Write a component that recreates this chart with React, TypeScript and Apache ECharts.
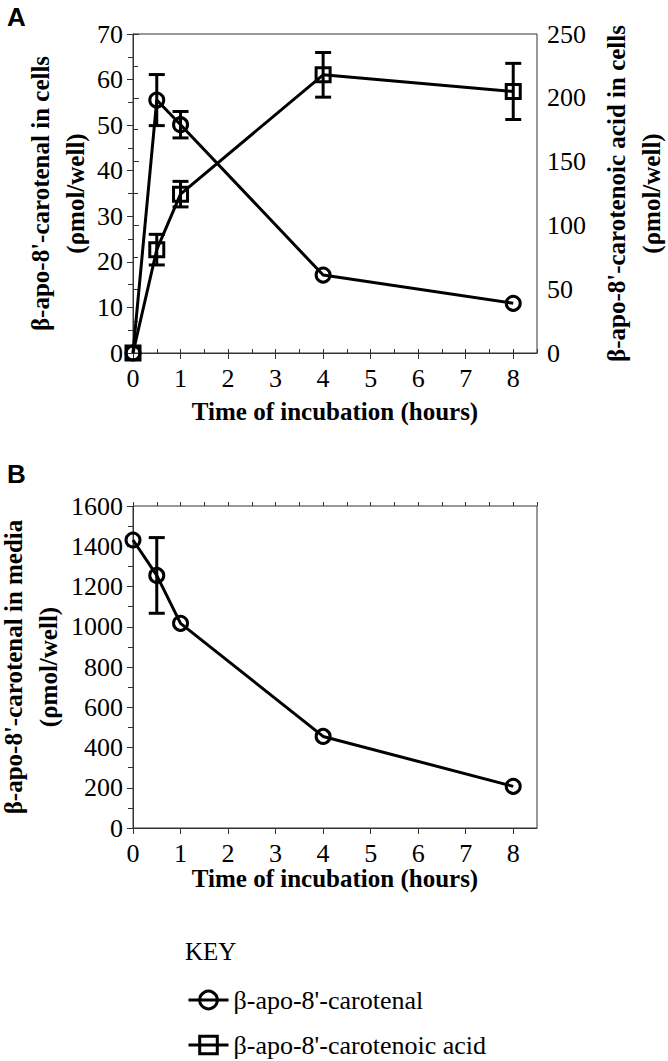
import React, { useEffect, useRef } from 'react';
import * as echarts from 'echarts';

// ---- data ----
const times = [0, 0.5, 1, 4, 8];
const cellCarotenal = [0, 55.5, 50.1, 17.1, 10.9];
const cellCarotenalErr = [0, 5.6, 2.9, 0, 0];
const cellAcid = [0, 81, 124.5, 218, 205];
const cellAcidErr = [0, 12, 10, 17.5, 22];
const mediaCarotenal = [1431, 1255, 1017, 455, 207];
const mediaCarotenalErr = [0, 188, 0, 0, 0];
const xTickLabels = [0, 1, 2, 3, 4, 5, 6, 7, 8];

const CAROTENAL = "β-apo-8'-carotenal";
const ACID = "β-apo-8'-carotenoic acid";
const SERIF = 'Liberation Serif';
const SANS = 'Liberation Sans';
const AXIS = '#333';
const CLEAR = 'rgba(0,0,0,0)';

const pairs = (vals: number[]) => times.map((t, i) => [t, vals[i]]);
const errData = (vals: number[], errs: number[]) =>
  times
    .map((t, i) => [t, vals[i] - errs[i], vals[i] + errs[i], errs[i]])
    .filter((d) => d[3] > 0);

const errorRender = (params: any, api: any) => {
  const x = api.value(0);
  const lo = api.coord([x, api.value(1)]);
  const hi = api.coord([x, api.value(2)]);
  const hw = 8;
  const st = { stroke: '#000', lineWidth: 3 };
  return {
    type: 'group',
    children: [
      { type: 'line', shape: { x1: hi[0], y1: hi[1], x2: lo[0], y2: lo[1] }, style: st },
      { type: 'line', shape: { x1: hi[0] - hw, y1: hi[1], x2: hi[0] + hw, y2: hi[1] }, style: st },
      { type: 'line', shape: { x1: lo[0] - hw, y1: lo[1], x2: lo[0] + hw, y2: lo[1] }, style: st },
    ],
  };
};

const tickLabel = { fontFamily: SERIF, fontSize: 26, color: '#000' };
const nameStyle = { fontFamily: SERIF, fontSize: 25, fontWeight: 'bold' as const, color: '#000', lineHeight: 35 };

const mainX = (gridIndex: number, nameGap: number) => ({
  type: 'value',
  gridIndex,
  min: 0,
  max: 8.5,
  interval: 1,
  name: 'Time of incubation (hours)',
  nameLocation: 'middle',
  nameGap,
  nameMoveOverlap: false,
  nameTextStyle: { ...nameStyle },
  axisLine: { show: true, lineStyle: { color: AXIS, width: 1 } },
  axisTick: { show: true, length: 6, lineStyle: { color: AXIS } },
  axisLabel: {
    ...tickLabel,
    margin: 12,
    showMaxLabel: false,
    formatter: (v: number) => (xTickLabels.includes(v) ? String(v) : ''),
  },
  splitLine: { show: false },
});

const minorX = (gridIndex: number) => ({
  type: 'value',
  gridIndex,
  min: 0,
  max: 8.5,
  interval: 0.5,
  axisLine: { show: false },
  axisTick: { show: true, length: 4, lineStyle: { color: AXIS } },
  axisLabel: { show: false },
  splitLine: { show: false },
});

const yAx = (gridIndex: number, max: number, interval: number, name: string, nameGap: number, position: string) => ({
  type: 'value',
  gridIndex,
  position,
  min: 0,
  max,
  interval,
  name,
  nameLocation: 'middle',
  nameGap,
  nameRotate: 90,
  nameMoveOverlap: false,
  nameTextStyle: { ...nameStyle },
  axisLine: { show: true, lineStyle: { color: AXIS, width: 1 } },
  axisTick: { show: true, length: 6, lineStyle: { color: AXIS } },
  minorTick: { show: true, splitNumber: 2, length: 5, lineStyle: { color: AXIS } },
  axisLabel: { ...tickLabel, margin: 10, formatter: (v: number) => String(v) },
  splitLine: { show: false },
  minorSplitLine: { show: false },
});

const lineSeries = (name: string, symbol: string, data: number[], xi: number, yi: number) => ({
  type: 'line',
  name,
  xAxisIndex: xi,
  yAxisIndex: yi,
  data: pairs(data),
  symbol,
  symbolSize: 14,
  showAllSymbol: true,
  lineStyle: { color: '#000', width: 3 },
  itemStyle: { color: CLEAR, borderColor: '#000', borderWidth: 3 },
  emphasis: { disabled: true },
  z: 3,
});

const errSeries = (vals: number[], errs: number[], xi: number, yi: number) => ({
  type: 'custom',
  xAxisIndex: xi,
  yAxisIndex: yi,
  data: errData(vals, errs),
  encode: { x: 0, y: [1, 2] },
  renderItem: errorRender,
  z: 2,
  silent: true,
});

export default function App() {
  const ref = useRef<HTMLDivElement>(null);
  useEffect(() => {
    document.body.style.margin = '0';
    const chart = echarts.init(ref.current!, undefined, { renderer: 'svg' });
    chart.setOption({
      animation: false,
      backgroundColor: '#fff',
      grid: [
        { left: 133, top: 34, width: 404, height: 319, show: true, borderColor: AXIS, borderWidth: 1, backgroundColor: 'transparent', containLabel: false, outerBoundsMode: 'none' },
        { left: 133, top: 506, width: 404, height: 322, show: true, borderColor: AXIS, borderWidth: 1, backgroundColor: 'transparent', containLabel: false, outerBoundsMode: 'none' },
      ],
      xAxis: [mainX(0, 41), minorX(0), mainX(1, 33), minorX(1)],
      yAxis: [
        yAx(0, 70, 10, "β-apo-8'-carotenal in cells\n(ρmol/well)", 40, 'left'),
        yAx(0, 250, 50, "β-apo-8'-carotenoic acid in cells\n(ρmol/well)", 62, 'right'),
        yAx(1, 1600, 200, "β-apo-8'-carotenal in media\n(ρmol/well)", 67, 'left'),
      ],
      legend: {
        orient: 'vertical',
        left: 187,
        top: 987,
        height: 120,
        padding: 0,
        itemWidth: 40,
        itemHeight: 22,
        itemGap: 19,
        selectedMode: false,
        data: [CAROTENAL, ACID],
        textStyle: { fontFamily: SERIF, fontSize: 26, color: '#000' },
        itemStyle: { color: CLEAR, borderColor: '#000', borderWidth: 3 },
        lineStyle: { color: '#000', width: 3 },
      },
      graphic: [
        { type: 'text', left: 7, top: 4, style: { text: 'A', font: `bold 26px ${SANS}`, fill: '#000' } },
        { type: 'text', left: 7, top: 461, style: { text: 'B', font: `bold 26px ${SANS}`, fill: '#000' } },
        { type: 'text', left: 185, top: 939, style: { text: 'KEY', font: `25px ${SERIF}`, fill: '#000' } },
      ],
      series: [
        errSeries(cellCarotenal, cellCarotenalErr, 0, 0),
        errSeries(cellAcid, cellAcidErr, 0, 1),
        errSeries(mediaCarotenal, mediaCarotenalErr, 2, 2),
        lineSeries(CAROTENAL, 'circle', cellCarotenal, 0, 0),
        lineSeries(ACID, 'rect', cellAcid, 0, 1),
        lineSeries(CAROTENAL, 'circle', mediaCarotenal, 2, 2),
      ],
    });
    return () => chart.dispose();
  }, []);
  return <div ref={ref} style={{ width: 668, height: 1061 }} />;
}
